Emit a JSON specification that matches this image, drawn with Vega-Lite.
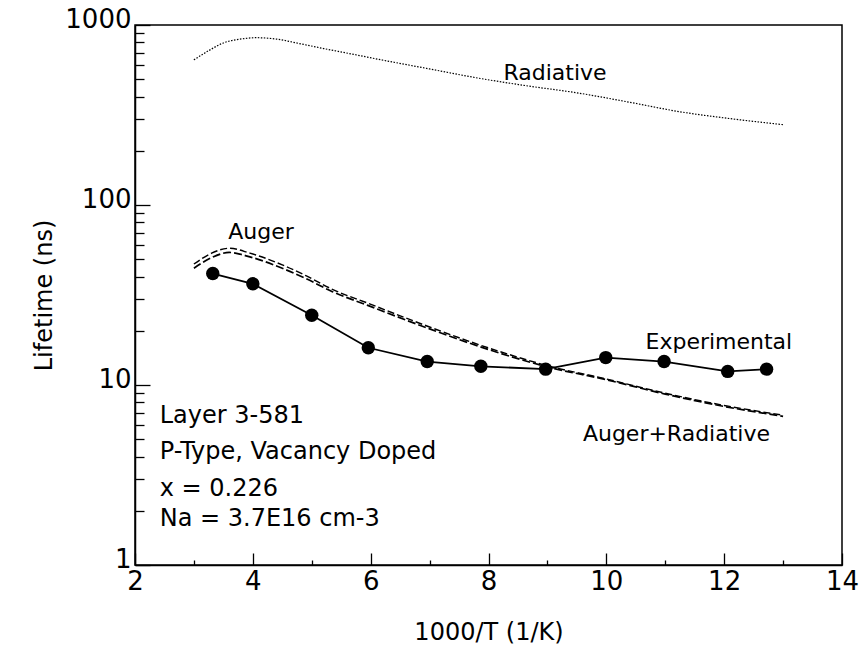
{
  "$schema": "https://vega.github.io/schema/vega-lite/v6.json",
  "width": 707,
  "height": 540,
  "autosize": "none",
  "padding": {"left": 135, "top": 25, "right": 19, "bottom": 87},
  "background": "white",
  "config": {
    "view": {"stroke": "black", "strokeWidth": 1.5},
    "font": "DejaVu Sans",
    "axis": {"domainColor": "black", "domainWidth": 1.5, "tickColor": "black", "tickWidth": 1.3, "labelColor": "black", "titleColor": "black", "labelFont": "DejaVu Sans", "titleFont": "DejaVu Sans", "labelFontSize": 26, "titleFontSize": 24, "titleFontWeight": "normal", "grid": false, "labelFlush": false}
  },
  "resolve": {"axis": {"x": "independent", "y": "independent"}},
  "datasets": {
    "curves": [
      {"series": "Radiative", "x": 3.0, "y": 640},
      {"series": "Radiative", "x": 3.25, "y": 720},
      {"series": "Radiative", "x": 3.5, "y": 795},
      {"series": "Radiative", "x": 3.85, "y": 840},
      {"series": "Radiative", "x": 4.05, "y": 850},
      {"series": "Radiative", "x": 4.4, "y": 835},
      {"series": "Radiative", "x": 4.78, "y": 790},
      {"series": "Radiative", "x": 5.2, "y": 740},
      {"series": "Radiative", "x": 5.63, "y": 695},
      {"series": "Radiative", "x": 6.14, "y": 644},
      {"series": "Radiative", "x": 7.0, "y": 570},
      {"series": "Radiative", "x": 7.84, "y": 506},
      {"series": "Radiative", "x": 8.6, "y": 462},
      {"series": "Radiative", "x": 9.54, "y": 418},
      {"series": "Radiative", "x": 10.4, "y": 372},
      {"series": "Radiative", "x": 11.24, "y": 330},
      {"series": "Radiative", "x": 12.1, "y": 302},
      {"series": "Radiative", "x": 13.02, "y": 279},
      {"series": "Auger", "x": 3.0, "y": 47},
      {"series": "Auger", "x": 3.3, "y": 54},
      {"series": "Auger", "x": 3.6, "y": 57.5},
      {"series": "Auger", "x": 3.95, "y": 54},
      {"series": "Auger", "x": 4.5, "y": 46.5},
      {"series": "Auger", "x": 4.9, "y": 40.5},
      {"series": "Auger", "x": 5.35, "y": 34},
      {"series": "Auger", "x": 5.95, "y": 28.5},
      {"series": "Auger", "x": 7.0, "y": 21},
      {"series": "Auger", "x": 8.2, "y": 15.3},
      {"series": "Auger", "x": 9.0, "y": 12.8},
      {"series": "Auger", "x": 10.0, "y": 10.8},
      {"series": "Auger", "x": 11.0, "y": 9.0},
      {"series": "Auger", "x": 12.0, "y": 7.7},
      {"series": "Auger", "x": 13.0, "y": 6.8},
      {"series": "Auger+Radiative", "x": 3.0, "y": 44.5},
      {"series": "Auger+Radiative", "x": 3.3, "y": 51},
      {"series": "Auger+Radiative", "x": 3.6, "y": 54.5},
      {"series": "Auger+Radiative", "x": 3.95, "y": 51.5},
      {"series": "Auger+Radiative", "x": 4.5, "y": 44.5},
      {"series": "Auger+Radiative", "x": 4.9, "y": 39},
      {"series": "Auger+Radiative", "x": 5.35, "y": 33},
      {"series": "Auger+Radiative", "x": 5.95, "y": 27.7},
      {"series": "Auger+Radiative", "x": 7.0, "y": 20.5},
      {"series": "Auger+Radiative", "x": 8.2, "y": 15.0},
      {"series": "Auger+Radiative", "x": 9.0, "y": 12.6},
      {"series": "Auger+Radiative", "x": 10.0, "y": 10.7},
      {"series": "Auger+Radiative", "x": 11.0, "y": 8.9},
      {"series": "Auger+Radiative", "x": 12.0, "y": 7.6},
      {"series": "Auger+Radiative", "x": 13.0, "y": 6.7}
    ],
    "experimental": [
      {"x": 3.32, "y": 41.6},
      {"x": 4.0, "y": 36.5},
      {"x": 5.0, "y": 24.4},
      {"x": 5.96, "y": 16.1},
      {"x": 6.96, "y": 13.5},
      {"x": 7.87, "y": 12.7},
      {"x": 8.97, "y": 12.25},
      {"x": 9.99, "y": 14.2},
      {"x": 10.98, "y": 13.5},
      {"x": 12.06, "y": 11.9},
      {"x": 12.72, "y": 12.25}
    ],
    "curveLabels": [
      {"label": "Radiative", "x": 9.13, "y": 538},
      {"label": "Auger", "x": 4.14, "y": 70.6},
      {"label": "Experimental", "x": 11.91, "y": 17.4},
      {"label": "Auger+Radiative", "x": 11.19, "y": 5.35}
    ],
    "info": [
      {"label": "Layer 3-581", "x": 2.42, "y": 6.71},
      {"label": "P-Type, Vacancy Doped", "x": 2.42, "y": 4.25},
      {"label": "x = 0.226", "x": 2.42, "y": 2.66},
      {"label": "Na = 3.7E16 cm-3", "x": 2.42, "y": 1.79}
    ]
  },
  "layer": [
    {
      "data": {"name": "curves"},
      "mark": {"type": "line", "color": "black", "interpolate": "monotone"},
      "encoding": {
        "x": {"field": "x", "type": "quantitative", "scale": {"domain": [2, 14], "nice": false, "zero": false},
          "axis": {"orient": "bottom", "values": [3, 5, 7, 9, 11, 13], "tickSize": -5, "labels": false, "domain": false, "title": null}},
        "y": {"field": "y", "type": "quantitative", "scale": {"type": "log", "domain": [1, 1000], "nice": false},
          "axis": {"orient": "left", "values": [2, 3, 4, 5, 6, 7, 8, 9, 20, 30, 40, 50, 60, 70, 80, 90, 200, 300, 400, 500, 600, 700, 800, 900], "tickSize": -9, "labels": false, "domain": false, "title": null}},
        "detail": {"field": "series"},
        "strokeDash": {"field": "series", "type": "nominal", "legend": null,
          "scale": {"domain": ["Radiative", "Auger", "Auger+Radiative"], "range": [[1.5, 1.5], [7, 3], [8, 3]]}},
        "strokeWidth": {"field": "series", "type": "nominal", "legend": null,
          "scale": {"domain": ["Radiative", "Auger", "Auger+Radiative"], "range": [1.2, 1.7, 1.8]}}
      }
    },
    {
      "data": {"name": "experimental"},
      "mark": {"type": "line", "color": "black", "strokeWidth": 1.8},
      "encoding": {
        "x": {"field": "x", "type": "quantitative",
          "axis": {"orient": "bottom", "title": "1000/T (1/K)", "values": [2, 4, 6, 8, 10, 12, 14], "tickSize": -12, "labelPadding": 15, "titlePadding": 26}},
        "y": {"field": "y", "type": "quantitative",
          "axis": {"orient": "left", "title": "Lifetime (ns)", "values": [1, 10, 100, 1000], "format": "d", "tickSize": -15, "labelPadding": 19, "labelOffset": -6, "titlePadding": 8}}
      }
    },
    {
      "data": {"name": "experimental"},
      "mark": {"type": "point", "filled": true, "color": "black", "opacity": 1, "size": 180, "shape": "circle"},
      "encoding": {
        "x": {"field": "x", "type": "quantitative", "axis": null},
        "y": {"field": "y", "type": "quantitative", "axis": null}
      }
    },
    {
      "data": {"name": "curveLabels"},
      "mark": {"type": "text", "align": "center", "baseline": "middle", "fontSize": 22, "color": "black", "font": "DejaVu Sans"},
      "encoding": {
        "x": {"field": "x", "type": "quantitative", "axis": null},
        "y": {"field": "y", "type": "quantitative", "axis": null},
        "text": {"field": "label"}
      }
    },
    {
      "data": {"name": "info"},
      "mark": {"type": "text", "align": "left", "baseline": "middle", "fontSize": 24, "color": "black", "font": "DejaVu Sans"},
      "encoding": {
        "x": {"field": "x", "type": "quantitative", "axis": null},
        "y": {"field": "y", "type": "quantitative", "axis": null},
        "text": {"field": "label"}
      }
    }
  ]
}
